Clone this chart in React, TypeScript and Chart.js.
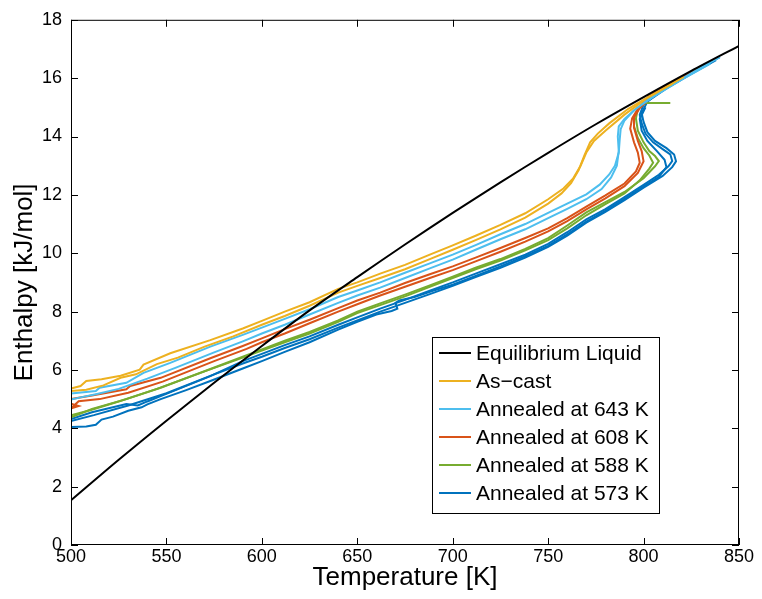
import React, { useEffect, useRef } from "react";
import { Chart, registerables } from "chart.js";

Chart.register(...registerables);

const FONT = "'Liberation Sans', Arial, Helvetica, sans-serif";

const xTicks = [500, 550, 600, 650, 700, 750, 800, 850];
const yTicks = [0, 2, 4, 6, 8, 10, 12, 14, 16, 18];

const legendLabels = [
  "Equilibrium Liquid",
  "As\u2212cast",
  "Annealed at 643 K",
  "Annealed at 608 K",
  "Annealed at 588 K",
  "Annealed at 573 K",
];
const colors = ["#000000", "#EDB120", "#4DBEEE", "#D95319", "#77AC30", "#0072BD"];

// Equilibrium liquid
const eqT = [500, 525, 550, 575, 600, 625, 650, 675, 700, 725, 750, 775, 800, 825, 850];
const eqH = [1.53, 2.92, 4.26, 5.56, 6.82, 8.04, 9.18, 10.3, 11.38, 12.43, 13.44, 14.42, 15.35, 16.25, 17.11];

// As-cast
const castAT = [500, 505, 508, 516, 526, 536, 538, 552, 573, 590, 600, 612, 625, 640, 650, 662, 675, 688, 700, 712, 725, 738, 750, 758, 763, 767, 770, 774, 780, 790, 801, 812, 821];
const castAH = [5.36, 5.45, 5.62, 5.68, 5.8, 6.01, 6.18, 6.57, 7.02, 7.42, 7.68, 8.0, 8.32, 8.78, 9.0, 9.3, 9.6, 9.95, 10.27, 10.6, 10.97, 11.37, 11.85, 12.22, 12.55, 13.0, 13.45, 13.85, 14.2, 14.75, 15.28, 15.7, 16.04];
const castBT = [500, 508, 517, 526, 534, 545, 556, 570, 585, 600, 612, 625, 640, 650, 662, 675, 688, 700, 712, 725, 738, 750, 757, 762, 766, 769, 772, 776, 782, 792, 803, 815];
const castBH = [5.28, 5.32, 5.47, 5.73, 5.85, 6.2, 6.42, 6.8, 7.15, 7.55, 7.85, 8.2, 8.65, 8.88, 9.15, 9.45, 9.8, 10.12, 10.45, 10.82, 11.22, 11.7, 12.05, 12.4, 12.85, 13.35, 13.8, 14.1, 14.45, 14.95, 15.38, 15.8];

// Annealed at 643 K
const a643AT = [500, 513, 515, 529, 538, 552, 573, 590, 600, 612, 625, 640, 650, 662, 675, 688, 700, 712, 725, 738, 750, 760, 770, 777, 782, 785, 787, 787.5, 788, 790, 795, 803, 815, 828, 840];
const a643AH = [5.19, 5.28, 5.39, 5.56, 5.9, 6.24, 6.8, 7.2, 7.45, 7.75, 8.08, 8.5, 8.72, 9.0, 9.33, 9.65, 9.95, 10.28, 10.65, 11.0, 11.38, 11.7, 12.02, 12.35, 12.7, 13.0, 13.45, 13.9, 14.25, 14.55, 14.9, 15.3, 15.78, 16.28, 16.72];
const a643BT = [500, 505, 513, 525, 540, 555, 575, 590, 600, 612, 625, 640, 650, 662, 675, 688, 700, 712, 725, 738, 750, 760, 770, 778, 783, 786, 787, 786.5, 787, 790, 796, 806, 820, 835];
const a643BH = [4.99, 5.06, 5.17, 5.35, 5.7, 6.08, 6.6, 6.98, 7.25, 7.55, 7.9, 8.3, 8.55, 8.82, 9.15, 9.48, 9.78, 10.12, 10.48, 10.82, 11.2, 11.52, 11.85, 12.2, 12.6, 13.0, 13.5, 14.0, 14.35, 14.6, 14.95, 15.4, 15.95, 16.5];

// Annealed at 608 K
const a608AT = [500, 511, 529, 531, 547, 573, 590, 600, 612, 625, 640, 650, 662, 675, 688, 700, 712, 725, 738, 750, 760, 770, 780, 790, 796, 798, 797, 795, 793, 794, 797, 803, 815, 830];
const a608AH = [5.0, 5.12, 5.34, 5.45, 5.73, 6.4, 6.82, 7.08, 7.4, 7.72, 8.12, 8.38, 8.65, 8.98, 9.28, 9.55, 9.85, 10.18, 10.52, 10.85, 11.2, 11.6, 11.98, 12.39, 12.8, 13.1, 13.45, 13.8, 14.27, 14.62, 14.95, 15.4, 15.85, 16.35];
const a608BT = [500, 504, 500, 504, 515, 530, 548, 575, 592, 600, 612, 625, 640, 650, 662, 675, 688, 700, 712, 725, 738, 750, 760, 770, 780, 790, 797, 800, 799, 797, 795, 795, 798, 805, 820];
const a608BH = [4.84, 4.76, 4.68, 4.93, 5.0, 5.22, 5.6, 6.3, 6.72, 6.95, 7.25, 7.6, 8.0, 8.25, 8.55, 8.85, 9.15, 9.42, 9.72, 10.05, 10.4, 10.75, 11.1, 11.5, 11.88, 12.3, 12.75, 13.15, 13.5, 13.85, 14.3, 14.65, 14.98, 15.42, 16.0];

// Annealed at 588 K
const a588AT = [500, 511, 529, 547, 573, 590, 600, 612, 625, 640, 650, 662, 675, 688, 700, 712, 725, 738, 750, 760, 770, 780, 790, 800, 806, 808, 806, 803, 800, 797, 796, 797, 803, 815, 830];
const a588AH = [4.38, 4.66, 5.0, 5.39, 6.03, 6.45, 6.7, 7.0, 7.3, 7.7, 8.0, 8.28, 8.58, 8.9, 9.2, 9.5, 9.8, 10.15, 10.52, 10.95, 11.4, 11.75, 12.1, 12.57, 12.98, 13.16, 13.33, 13.5, 13.8, 14.2, 14.62, 14.95, 15.35, 15.85, 16.4];
const a588BT = [500, 510, 525, 545, 570, 590, 600, 612, 625, 640, 650, 662, 675, 688, 700, 712, 725, 738, 750, 760, 770, 780, 790, 798, 803, 805, 803, 800, 797, 795, 795, 798, 801, 814];
const a588BH = [4.45, 4.62, 4.92, 5.35, 5.95, 6.42, 6.66, 6.95, 7.25, 7.65, 7.95, 8.22, 8.52, 8.85, 9.15, 9.45, 9.75, 10.1, 10.45, 10.85, 11.3, 11.68, 12.05, 12.5, 12.9, 13.1, 13.35, 13.6, 13.95, 14.35, 14.7, 15.0, 15.15, 15.15];

// Annealed at 573 K
const a573AT = [500, 511, 529, 535, 540, 547, 573, 590, 600, 612, 625, 640, 650, 662, 675, 688, 700, 712, 725, 738, 750, 760, 770, 780, 790, 800, 808, 813, 815, 814, 810, 805, 801, 799, 798, 800, 808, 820, 832, 840];
const a573AH = [4.32, 4.55, 4.83, 4.78, 4.92, 5.1, 5.79, 6.3, 6.55, 6.85, 7.15, 7.55, 7.8, 8.1, 8.4, 8.72, 9.0, 9.3, 9.62, 9.95, 10.32, 10.72, 11.16, 11.51, 11.92, 12.34, 12.69, 12.98, 13.16, 13.39, 13.57, 13.8, 14.1, 14.45, 14.74, 15.1, 15.5, 15.98, 16.45, 16.72];
const a573BT = [500, 512, 530, 550, 575, 590, 600, 612, 625, 640, 650, 662, 675, 688, 700, 712, 725, 738, 750, 760, 770, 780, 790, 800, 810, 815, 817, 816, 812, 806, 802, 800, 799, 802, 812, 825, 838];
const a573BH = [4.25, 4.45, 4.78, 5.2, 5.85, 6.22, 6.45, 6.75, 7.05, 7.45, 7.7, 8.0, 8.3, 8.6, 8.88, 9.18, 9.5, 9.85, 10.22, 10.6, 11.05, 11.42, 11.82, 12.25, 12.65, 12.95, 13.15, 13.38, 13.6, 13.85, 14.15, 14.5, 14.8, 15.2, 15.65, 16.15, 16.62];
const a573CT = [500, 508, 513, 516, 522, 530, 537, 540, 547, 560, 573, 590, 600, 612, 625, 640, 650, 660, 668, 671, 670, 672, 680, 690, 700, 712, 725, 738, 750, 760, 770, 780, 790, 800, 808, 812, 811, 807, 802, 799, 798, 801];
const a573CH = [4.04, 4.06, 4.12, 4.3, 4.4, 4.6, 4.72, 4.82, 5.0, 5.3, 5.62, 6.05, 6.3, 6.62, 6.95, 7.38, 7.65, 7.9, 8.02, 8.1, 8.3, 8.38, 8.5, 8.72, 8.92, 9.22, 9.55, 9.9, 10.25, 10.65, 11.08, 11.45, 11.86, 12.28, 12.62, 12.95, 13.2, 13.5, 13.85, 14.2, 14.6, 15.0];

const pts = (t: number[], h: number[]) => t.map((x, i) => ({ x, y: h[i] }));

const curves: { t: number[]; h: number[]; c: number; legend: boolean }[] = [
  { t: eqT, h: eqH, c: 0, legend: true },
  { t: castAT, h: castAH, c: 1, legend: true },
  { t: castBT, h: castBH, c: 1, legend: false },
  { t: a643AT, h: a643AH, c: 2, legend: true },
  { t: a643BT, h: a643BH, c: 2, legend: false },
  { t: a608AT, h: a608AH, c: 3, legend: true },
  { t: a608BT, h: a608BH, c: 3, legend: false },
  { t: a588AT, h: a588AH, c: 4, legend: true },
  { t: a588BT, h: a588BH, c: 4, legend: false },
  { t: a573AT, h: a573AH, c: 5, legend: true },
  { t: a573BT, h: a573BH, c: 5, legend: false },
  { t: a573CT, h: a573CH, c: 5, legend: false },
];

const frameAndLegend = {
  id: "frameAndLegend",
  afterDraw(chart: any) {
    const { ctx, chartArea: a, scales } = chart;
    const xs = scales.x;
    const ys = scales.y;
    ctx.save();
    ctx.strokeStyle = "#000";
    ctx.lineWidth = 1;
    ctx.strokeRect(a.left + 0.5, a.top + 0.5, a.right - a.left - 1, a.bottom - a.top - 1);
    const tl = 7;
    ctx.beginPath();
    xTicks.forEach((v) => {
      const px = Math.round(xs.getPixelForValue(v)) + 0.5;
      ctx.moveTo(px, a.bottom);
      ctx.lineTo(px, a.bottom - tl);
      ctx.moveTo(px, a.top);
      ctx.lineTo(px, a.top + tl);
    });
    yTicks.forEach((v) => {
      const py = Math.round(ys.getPixelForValue(v)) + 0.5;
      ctx.moveTo(a.left, py);
      ctx.lineTo(a.left + tl, py);
      ctx.moveTo(a.right, py);
      ctx.lineTo(a.right - tl, py);
    });
    ctx.stroke();

    // legend box
    const bx = 432, by = 337, bw = 227, bh = 176;
    ctx.fillStyle = "#fff";
    ctx.fillRect(bx, by, bw, bh);
    ctx.strokeRect(bx + 0.5, by + 0.5, bw, bh);
    ctx.font = `21px ${FONT}`;
    ctx.textBaseline = "middle";
    ctx.textAlign = "left";
    legendLabels.forEach((lab, i) => {
      const y = by + 16 + i * 28;
      ctx.strokeStyle = colors[i];
      ctx.lineWidth = 2;
      ctx.beginPath();
      ctx.moveTo(bx + 7, y);
      ctx.lineTo(bx + 39, y);
      ctx.stroke();
      ctx.fillStyle = "#000";
      ctx.fillText(lab, bx + 44, y + 1);
    });
    ctx.restore();
  },
};

export default function App() {
  const ref = useRef<HTMLCanvasElement>(null);
  useEffect(() => {
    const chart = new Chart(ref.current!, {
      type: "scatter",
      data: {
        datasets: curves.map((cv) => ({
          label: cv.legend ? legendLabels[cv.c] : "",
          data: pts(cv.t, cv.h),
          showLine: true,
          borderColor: colors[cv.c],
          backgroundColor: colors[cv.c],
          borderWidth: 2,
          pointRadius: 0,
          tension: cv.c === 0 ? 0.3 : 0,
        })),
      },
      options: {
        responsive: false,
        animation: false,
        layout: { padding: { top: 11, right: 23, left: 0, bottom: 0 } },
        plugins: { legend: { display: false }, tooltip: { enabled: false } },
        scales: {
          x: {
            type: "linear",
            min: 500,
            max: 850,
            afterFit: (s: any) => { s.height = 54; },
            afterBuildTicks: (s: any) => { s.ticks = xTicks.map((v) => ({ value: v })); },
            grid: { display: false, drawTicks: false, tickLength: 0 },
            border: { display: false },
            ticks: { color: "#000", font: { family: FONT, size: 18 }, padding: 1, maxRotation: 0, autoSkip: false },
            title: { display: true, text: "Temperature [K]", color: "#000", font: { family: FONT, size: 26 }, padding: { top: 0, bottom: 6 } },
          },
          y: {
            type: "linear",
            min: 0,
            max: 18,
            afterFit: (s: any) => { s.width = 71; },
            afterBuildTicks: (s: any) => { s.ticks = yTicks.map((v) => ({ value: v })); },
            grid: { display: false, drawTicks: false, tickLength: 0 },
            border: { display: false },
            ticks: { color: "#000", font: { family: FONT, size: 18 }, padding: 9, autoSkip: false },
            title: { display: true, text: "Enthalpy [kJ/mol]", color: "#000", font: { family: FONT, size: 26 }, padding: { top: 9, bottom: 0 } },
          },
        },
      },
      plugins: [frameAndLegend],
    });
    return () => chart.destroy();
  }, []);
  return (
    <div style={{ position: "fixed", left: 0, top: 0, width: 762, height: 599, background: "#fff" }}>
      <canvas ref={ref} width={762} height={599} style={{ display: "block" }} />
    </div>
  );
}
